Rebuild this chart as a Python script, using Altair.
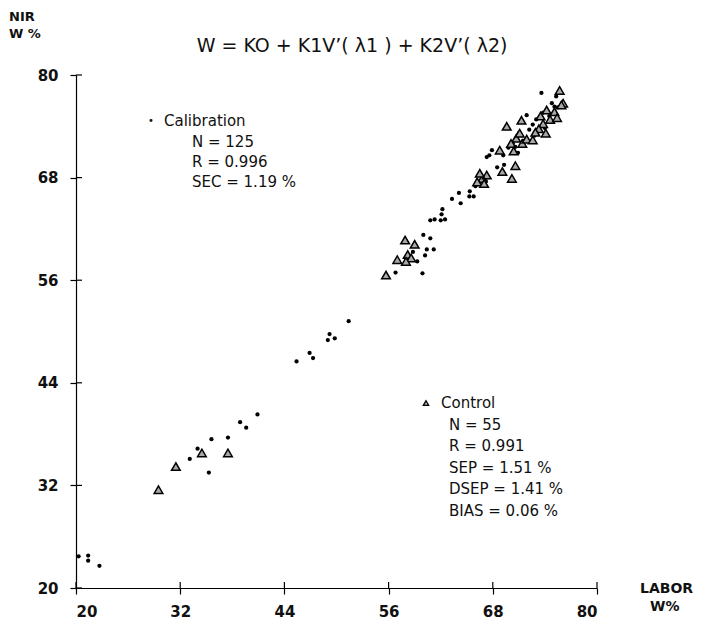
import altair as alt
import pandas as pd

# Calibration samples (LABOR W%, NIR W%)
cal_x = [20.3, 21.4, 21.4, 22.7, 33.1, 34.0, 35.3, 35.6, 37.5, 38.9, 39.6, 40.9,
         45.4, 46.9, 47.3, 49.0, 49.2, 49.8, 51.4,
         56.8, 59.9, 60.0, 60.8, 60.4, 61.2, 60.2, 58.3, 58.8, 59.3,
         60.8, 61.3, 62.0, 62.5, 62.2, 62.1, 63.3, 64.1, 64.3, 65.3, 65.8, 65.35,
         68.5, 69.3, 67.3, 67.9, 67.6, 71.9, 73.6, 75.3, 75.7, 74.8, 75.1,
         70.3, 71.0, 72.2, 73.0, 74.5, 72.8, 69.8, 71.5, 73.8, 75.5, 74.0, 70.9,
         66.4, 67.2, 66.0, 69.2, 72.6, 70.6]
cal_y = [23.7, 23.8, 23.2, 22.6, 35.1, 36.3, 33.5, 37.4, 37.6, 39.4, 38.75, 40.3,
         46.5, 47.5, 46.9, 49.0, 49.7, 49.2, 51.2,
         56.9, 56.8, 61.3, 60.9, 59.6, 59.6, 58.9, 58.5, 59.3, 58.2,
         63.0, 63.1, 63.0, 63.1, 64.3, 63.7, 65.5, 66.2, 65.0, 65.8, 65.8, 66.4,
         69.2, 69.5, 70.4, 71.2, 70.6, 75.3, 77.9, 77.5, 77.9, 76.7, 76.3,
         72.0, 73.2, 73.6, 74.8, 75.2, 72.9, 71.5, 72.3, 75.6, 76.2, 73.8, 70.9,
         68.3, 67.6, 67.0, 70.6, 74.2, 71.6]

# Control samples
con_x = [29.5, 31.5, 34.5, 37.5,
         55.7, 57.0, 57.9, 59.0, 58.2, 58.6, 58.0,
         66.8, 66.2, 67.3, 66.5, 67.0,
         69.1, 70.2, 70.6, 68.8, 69.6,
         70.7, 70.1, 71.1, 71.4, 70.4, 71.9,
         71.3, 72.6, 73.8, 74.1, 73.3, 74.2, 75.7, 76.1, 75.9, 75.1, 73.5, 74.6, 75.4, 72.9]
con_y = [31.5, 34.2, 35.8, 35.8,
         56.6, 58.4, 60.7, 60.2, 59.0, 58.6, 58.2,
         67.9, 67.5, 68.3, 68.5, 67.3,
         68.7, 67.9, 69.4, 71.2, 74.0,
         72.6, 72.0, 73.2, 72.0, 71.1, 72.5,
         74.7, 72.4, 74.3, 73.2, 73.7, 75.9, 78.2, 76.7, 76.5, 75.7, 75.2, 74.8, 75.0, 73.3]

tick_vals = [20, 32, 44, 56, 68, 80]

FONT = "DejaVu Sans"

cal = pd.DataFrame({"labor": cal_x, "nir": cal_y})
con = pd.DataFrame({"labor": con_x, "nir": con_y})
ticks = pd.DataFrame({"v": tick_vals})

xs = alt.Scale(domain=[20, 80], nice=False, zero=False)
ys = alt.Scale(domain=[20, 80], nice=False, zero=False)

axis_common = dict(values=tick_vals, title=None, grid=False, domainColor="black",
                   domainWidth=1.2, tickColor="black", tickSize=6, tickWidth=1.2,
                   labelFont=FONT, labelFontSize=15, labelFontWeight="bold",
                   labelColor="#111")

dots = alt.Chart(cal).mark_circle(size=18, color="black", opacity=1).encode(
    x=alt.X("labor:Q", scale=xs, axis=alt.Axis(labelPadding=10, **axis_common)),
    y=alt.Y("nir:Q", scale=ys, axis=alt.Axis(labelPadding=12, **axis_common)),
)

tris = alt.Chart(con).mark_point(shape="triangle-up", size=75, filled=True,
                                 fill="#a8a8a8", stroke="black", strokeWidth=1.5,
                                 opacity=1).encode(
    x=alt.X("labor:Q", scale=xs),
    y=alt.Y("nir:Q", scale=ys),
)

# inward halves of the crossing ticks
yticks_in = alt.Chart(ticks).mark_rule(color="black", strokeWidth=1.2).encode(
    y=alt.Y("v:Q", scale=ys), x=alt.value(0), x2=alt.value(6))
xticks_in = alt.Chart(ticks).mark_rule(color="black", strokeWidth=1.2).encode(
    x=alt.X("v:Q", scale=xs), y=alt.value(513), y2=alt.value(507))


def txt(s, x, y, size=15, align="left", weight="normal"):
    return alt.Chart(pd.DataFrame({"t": [s]})).mark_text(
        text=s, font=FONT, fontSize=size, align=align, baseline="middle",
        color="#111", fontWeight=weight).encode(x=alt.value(x), y=alt.value(y))


ox, oy = 76, 75  # plot origin on the page
labels = [
    txt("W = KO + K1V\u2019( \u03bb1 ) + K2V\u2019( \u03bb2)", 352 - ox, 46 - oy, size=19, align="center"),
    txt("NIR", 9 - ox, 17 - oy, size=13, weight="bold"),
    txt("W %", 9 - ox, 34 - oy, size=13, weight="bold"),
    txt("LABOR", 640 - ox, 589 - oy, size=14, weight="bold"),
    txt("W%", 650 - ox, 607 - oy, size=14, weight="bold"),
    txt("\u2022", 148 - ox, 121 - oy, size=10),
    txt("Calibration", 164 - ox, 121 - oy),
    txt("N = 125", 192 - ox, 142 - oy),
    txt("R = 0.996", 192 - ox, 162 - oy),
    txt("SEC = 1.19 %", 192 - ox, 182 - oy),
    txt("Control", 441 - ox, 403 - oy),
    txt("N = 55", 449 - ox, 425 - oy),
    txt("R = 0.991", 449 - ox, 446 - oy),
    txt("SEP = 1.51 %", 449 - ox, 468 - oy),
    txt("DSEP = 1.41 %", 449 - ox, 489 - oy),
    txt("BIAS = 0.06 %", 449 - ox, 511 - oy),
]

legend_tri = alt.Chart(pd.DataFrame({"a": [0]})).mark_point(
    shape="triangle-up", size=30, filled=True, fill="#a8a8a8", stroke="black",
    strokeWidth=1.2, opacity=1).encode(x=alt.value(426 - ox), y=alt.value(403 - oy))

chart = alt.layer(dots, tris, yticks_in, xticks_in, legend_tri, *labels).properties(
    width=521, height=513,
    autosize=alt.AutoSizeParams(type="none"),
    padding={"left": 68, "top": 67, "right": 97, "bottom": 34},
    background="white",
).configure_view(stroke=None, strokeWidth=0)

chart.save("out.html", embed_options={"renderer": "svg", "actions": False})
